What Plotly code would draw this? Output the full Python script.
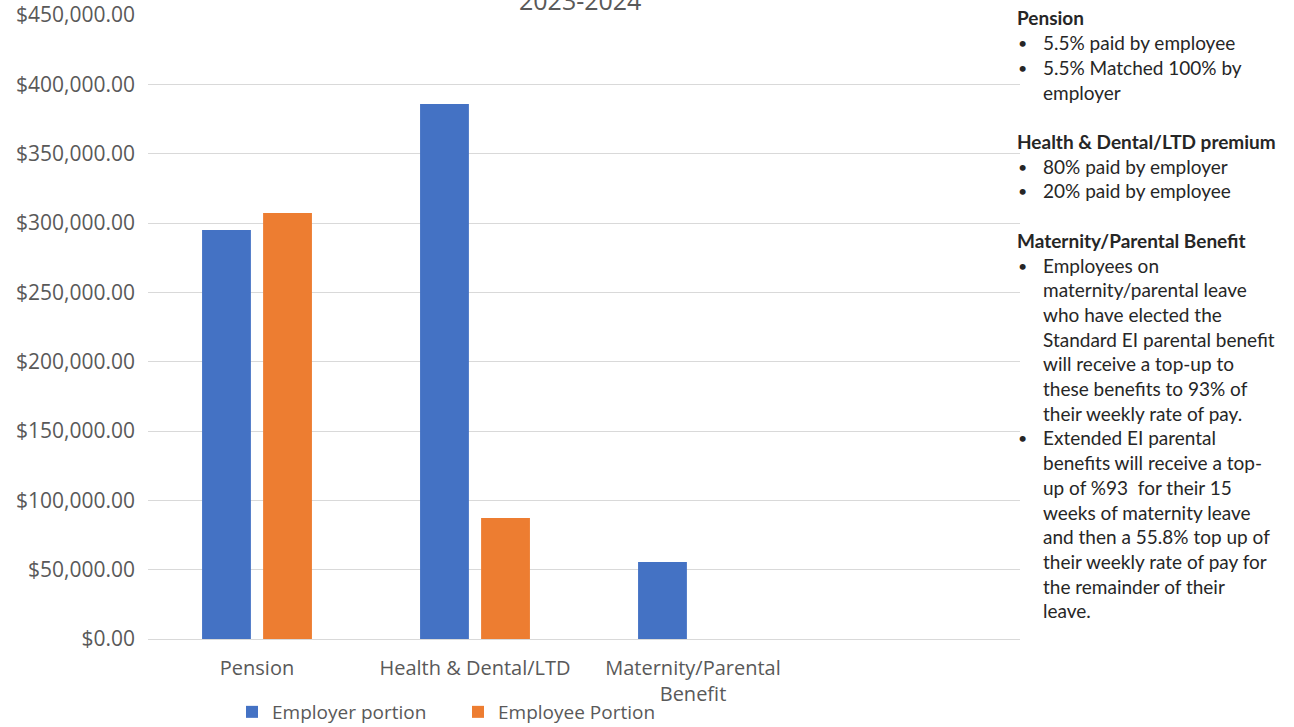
import plotly.graph_objects as go

categories = ["Pension", "Health & Dental/LTD", "Maternity/Parental<br>Benefit"]
employer_portion = [295000, 385800, 55500]
employee_portion = [307200, 87300, 0]
series_names = ["Employer portion", "Employee Portion"]
title_text = "2023-2024"

notes = [
    ("h", "Pension"),
    ("b", "5.5% paid by employee"),
    ("b", "5.5% Matched 100% by"),
    ("c", "employer"),
    ("", ""),
    ("h", "Health & Dental/LTD premium"),
    ("b", "80% paid by employer"),
    ("b", "20% paid by employee"),
    ("", ""),
    ("h", "Maternity/Parental Benefit"),
    ("b", "Employees on"),
    ("c", "maternity/parental leave"),
    ("c", "who have elected the"),
    ("c", "Standard EI parental benefit"),
    ("c", "will receive a top-up to"),
    ("c", "these benefits to 93% of"),
    ("c", "their weekly rate of pay."),
    ("b", "Extended EI parental"),
    ("c", "benefits will receive a top-"),
    ("c", "up of %93  for their 15"),
    ("c", "weeks of maternity leave"),
    ("c", "and then a 55.8% top up of"),
    ("c", "their weekly rate of pay for"),
    ("c", "the remainder of their"),
    ("c", "leave."),
]

W, H = 1294, 727
L, R, T, B = 148, 274, 15, 88
PW = W - L - R
PH = H - T - B

def px_x(px):
    return (px - L) / PW

def px_y(py):
    return (H - B - py) / PH

AX_FONT = "Open Sans"
NOTE_FONT = "Lato"
GRAY = "#595959"
DARK = "#262626"

fig = go.Figure()
fig.add_trace(go.Bar(x=categories, y=employer_portion, name=series_names[0],
                     marker=dict(color="#4472C4", line=dict(width=0))))
fig.add_trace(go.Bar(x=categories, y=employee_portion, name=series_names[1],
                     marker=dict(color="#ED7D31", line=dict(width=0))))

annotations = [
    dict(text=title_text, x=px_x(580), y=px_y(0), xref="paper", yref="paper",
         xanchor="center", yanchor="middle", showarrow=False,
         font=dict(family=AX_FONT, size=25, color=GRAY))
]

y0, dy = 18, 24.7
for i, (kind, txt) in enumerate(notes):
    if not kind:
        continue
    yy = px_y(y0 + i * dy)
    if kind == "h":
        annotations.append(dict(text="<b>" + txt + "</b>", x=px_x(1015), y=yy,
                                xref="paper", yref="paper", xanchor="left", yanchor="middle",
                                showarrow=False, font=dict(family=NOTE_FONT, size=19, color=DARK)))
    else:
        if kind == "b":
            annotations.append(dict(text="•", x=px_x(1016), y=yy,
                                    xref="paper", yref="paper", xanchor="left", yanchor="middle",
                                    showarrow=False, font=dict(family=NOTE_FONT, size=16, color=DARK)))
        annotations.append(dict(text=txt, x=px_x(1041), y=yy,
                                xref="paper", yref="paper", xanchor="left", yanchor="middle",
                                showarrow=False, font=dict(family=NOTE_FONT, size=19, color=DARK)))

fig.update_layout(
    width=W, height=H,
    margin=dict(l=L, r=R, t=T, b=B, autoexpand=False),
    paper_bgcolor="white", plot_bgcolor="white",
    barmode="group", bargap=0.44, bargroupgap=0.2,
    font=dict(family=AX_FONT, size=20, color=GRAY),
    showlegend=True,
    legend=dict(orientation="h", x=px_x(232), y=px_y(712), xanchor="left", yanchor="middle",
                font=dict(family=AX_FONT, size=19, color=GRAY),
                entrywidth=181, entrywidthmode="pixels",
                traceorder="normal", bgcolor="rgba(0,0,0,0)"),
    annotations=annotations,
)
fig.update_xaxes(range=[-0.5, 3.5], showgrid=False, showline=False, zeroline=False,
                 ticks="", tickfont=dict(family=AX_FONT, size=20, color=GRAY),
                 ticklabelstandoff=15)
fig.update_yaxes(range=[0, 450000], dtick=50000, tickformat="$,.2f",
                 showgrid=True, gridcolor="#D9D9D9", gridwidth=1.3,
                 zeroline=True, zerolinecolor="#D9D9D9", zerolinewidth=1.3,
                 showline=False, ticks="", tickfont=dict(family=AX_FONT, size=21, color=GRAY),
                 ticklabelstandoff=12)

fig.write_html("out.html", config={"displayModeBar": False},
               post_script="document.body.style.margin='0';")
